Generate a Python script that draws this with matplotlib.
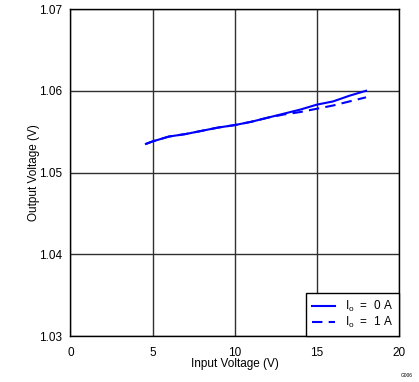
import matplotlib
matplotlib.use('Agg')
import matplotlib.pyplot as plt

plt.rcParams['font.family'] = ['Liberation Sans', 'DejaVu Sans']
plt.rcParams['mathtext.fontset'] = 'custom'
plt.rcParams['mathtext.rm'] = 'Liberation Sans'
plt.rcParams['mathtext.it'] = 'Liberation Sans'

# Data
vin = [4.6, 5, 6, 7, 8, 9, 10, 11, 12, 13, 14, 15, 16, 17, 18]
vout_0a = [1.0535, 1.0538, 1.0544, 1.0547, 1.0551, 1.0555, 1.0558, 1.0562,
           1.0567, 1.0572, 1.0577, 1.0583, 1.0587, 1.0594, 1.0600]
vout_1a = [1.0535, 1.0538, 1.0544, 1.0547, 1.0551, 1.0555, 1.0558, 1.0562,
           1.0567, 1.0571, 1.0574, 1.0578, 1.0582, 1.0587, 1.0592]

xticks = [0, 5, 10, 15, 20]
yticks = [1.03, 1.04, 1.05, 1.06, 1.07]

fig = plt.figure(figsize=(4.19, 3.82), dpi=100)
ax = fig.add_axes([0.168, 0.1204, 0.784, 0.856])

ax.plot(vin, vout_0a, color='#0000ff', lw=1.5, label=r'I$_{\rm o}$  =  0 A')
ax.plot(vin, vout_1a, color='#0000ff', lw=1.5, ls=(0, (5, 3)), label=r'I$_{\rm o}$  =  1 A')

ax.set_xlim(0, 20)
ax.set_ylim(1.03, 1.07)
ax.set_xticks(xticks)
ax.set_yticks(yticks)
ax.set_xticklabels([str(t) for t in xticks])
ax.set_yticklabels(['%.2f' % t for t in yticks])
ax.grid(True, color='#303030', lw=1)
ax.tick_params(length=0, labelsize=8.5)
ax.tick_params(axis='x', pad=8)
ax.tick_params(axis='y', pad=6)
for s in ax.spines.values():
    s.set_linewidth(1)
    s.set_color('black')

ax.set_xlabel('Input Voltage (V)', fontsize=8.5)
ax.set_ylabel('Output Voltage (V)', fontsize=8.5)
ax.xaxis.set_label_coords(0.5, -0.086)
ax.yaxis.set_label_coords(-0.112, 0.5)
ax.xaxis.label.set_va('center')
ax.yaxis.label.set_va('center')

leg = ax.legend(loc='lower right', fontsize=8.5, frameon=True, fancybox=False,
                edgecolor='black', framealpha=1, borderaxespad=0,
                handlelength=1.9, handletextpad=0.9, borderpad=0.5,
                labelspacing=0.1)
leg.get_frame().set_linewidth(1)

fig.text(0.985, 0.01, 'G006', fontsize=3.5, ha='right', va='bottom')

fig.savefig('out.png', dpi=100)
